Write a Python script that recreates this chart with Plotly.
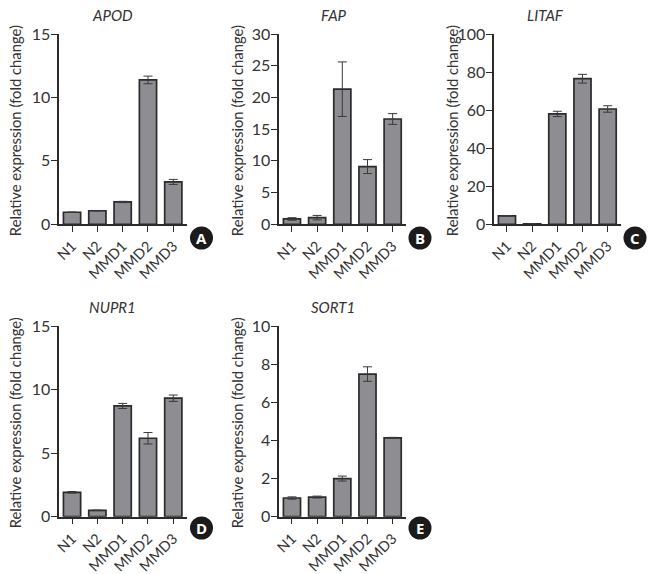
import plotly.graph_objects as go

W, H = 652, 574
categories = ["N1", "N2", "MMD1", "MMD2", "MMD3"]

genes = ["APOD", "FAP", "LITAF", "NUPR1", "SORT1"]
letters = ["A", "B", "C", "D", "E"]

apod_values = [0.95, 1.07, 1.76, 11.38, 3.34]
apod_errors = [0.02, 0.02, 0.05, 0.3, 0.2]
fap_values = [0.84, 1.05, 21.3, 9.1, 16.6]
fap_errors = [0.2, 0.35, 4.3, 1.1, 0.85]
litaf_values = [4.4, 0.3, 58.0, 76.5, 60.6]
litaf_errors = [0.2, 0.05, 1.4, 2.3, 1.7]
nupr1_values = [1.92, 0.5, 8.71, 6.17, 9.32]
nupr1_errors = [0.06, 0.02, 0.2, 0.45, 0.25]
sort1_values = [0.98, 1.03, 2.0, 7.48, 4.13]
sort1_errors = [0.06, 0.05, 0.13, 0.38, 0.03]

values = [apod_values, fap_values, litaf_values, nupr1_values, sort1_values]
errors = [apod_errors, fap_errors, litaf_errors, nupr1_errors, sort1_errors]
y_max = [15, 30, 100, 15, 10]
y_step = [5, 5, 20, 5, 2]

# panel geometry in pixels: axis left, axis right, top, bottom
panels = [
    (58.7, 186.7, 34, 224.3),
    (278.7, 406, 34, 224.3),
    (493.7, 621, 34, 224.3),
    (58.7, 186.7, 326, 516.7),
    (278.7, 406, 326, 516.7),
]
badges = [(201.5, 238), (420, 238), (635, 238), (201.5, 528), (420, 528)]
title_x = [112, 334, 545, 112, 333]
label_x = [15, 237, 452, 15, 237]

INK = "#2b2b2b"
TEXT = "#333333"
FONT = "Lato"

fig = go.Figure()
annotations, shapes = [], []

for i, (l, r, t, b) in enumerate(panels):
    n = "" if i == 0 else str(i + 1)
    fig.add_trace(go.Bar(
        x=categories, y=values[i], xaxis="x" + n, yaxis="y" + n,
        width=0.68,
        marker=dict(color="#8d8d92", line=dict(color=INK, width=1.7)),
        error_y=dict(type="data", array=errors[i], color="#3a3a3a", thickness=1, width=4.5),
        showlegend=False,
    ))
    fig.update_layout({
        "xaxis" + n: dict(
            domain=[l / W, r / W], anchor="y" + n, automargin=False,
            range=[-0.527, 4.53], tickmode="array",
            tickvals=categories, ticktext=categories,
            tickangle=-45, ticks="outside", ticklen=6, tickwidth=1.4, tickcolor=INK,
            showline=True, linecolor=INK, linewidth=1.5, showgrid=False, zeroline=False,
            tickfont=dict(family=FONT, size=14.5, color=TEXT),
        ),
        "yaxis" + n: dict(
            domain=[1 - b / H, 1 - t / H], anchor="x" + n, automargin=False,
            range=[0, y_max[i]], dtick=y_step[i], tick0=0,
            ticks="outside", ticklen=5.5, tickwidth=1.4, tickcolor=INK, ticklabelstandoff=-2,
            showline=True, linecolor=INK, linewidth=1.5, showgrid=False, zeroline=False,
            tickfont=dict(family=FONT, size=16, color=TEXT),
        ),
    })
    annotations.append(dict(
        text=genes[i], xref="paper", yref="paper",
        x=title_x[i] / W, y=1 - (t - 19) / H, xanchor="center", yanchor="middle",
        showarrow=False, font=dict(family=FONT, size=15, color=TEXT, style="italic"),
    ))
    annotations.append(dict(
        text="Relative expression (fold change)", xref="paper", yref="paper",
        x=label_x[i] / W, y=1 - ((t + b) / 2 + 2) / H, xanchor="center", yanchor="middle",
        textangle=-90, showarrow=False, font=dict(family=FONT, size=14.8, color=TEXT),
    ))
    bx, by = badges[i]
    rad = 11.5
    shapes.append(dict(
        type="circle", xref="paper", yref="paper",
        x0=(bx - rad) / W, x1=(bx + rad) / W, y0=1 - (by + rad) / H, y1=1 - (by - rad) / H,
        fillcolor="#1c1a1b", line=dict(width=0),
    ))
    annotations.append(dict(
        text="<b>" + letters[i] + "</b>", xref="paper", yref="paper",
        x=bx / W, y=1 - by / H, xanchor="center", yanchor="middle",
        showarrow=False, font=dict(family="Open Sans", size=15, color="white"),
    ))

fig.update_layout(
    width=W, height=H, margin=dict(l=0, r=0, t=0, b=0),
    paper_bgcolor="white", plot_bgcolor="white",
    annotations=annotations, shapes=shapes, bargap=0.32,
)
fig.write_html("out.html", config={"displayModeBar": False}, post_script="document.body.style.margin='0';")
